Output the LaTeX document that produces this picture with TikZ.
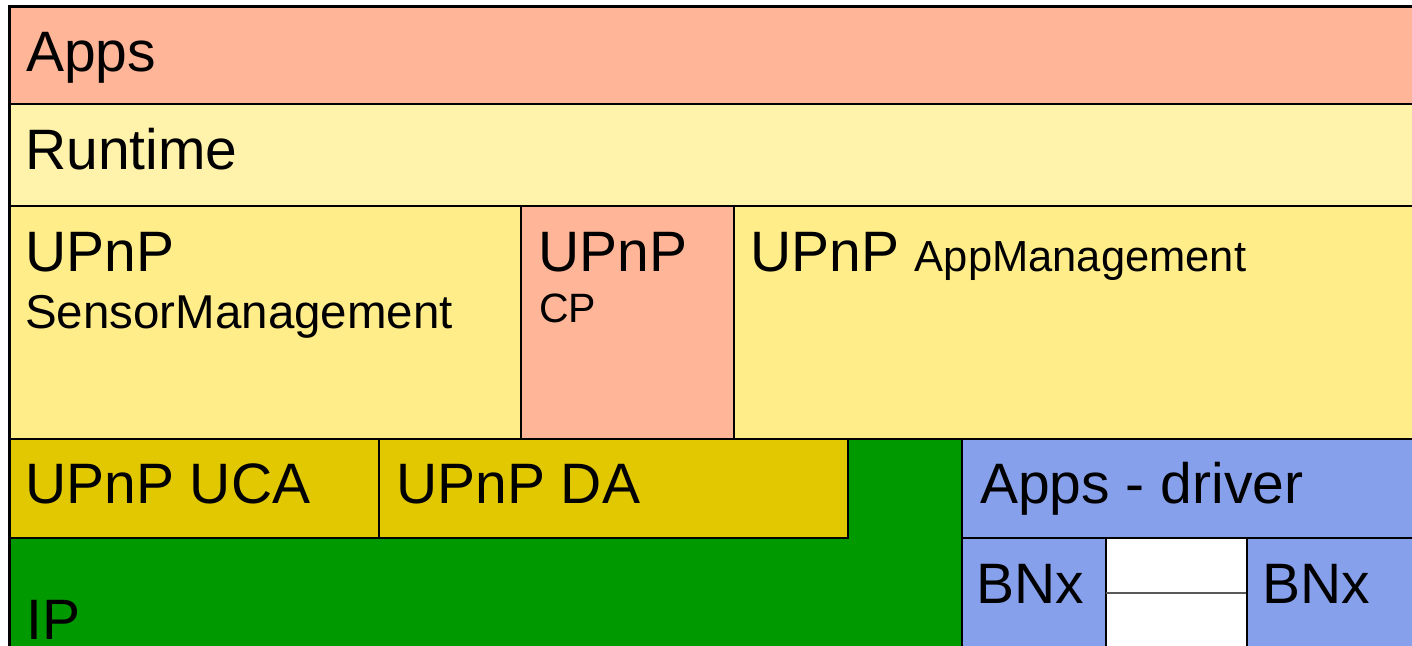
\documentclass[tikz,border=0pt]{standalone}
\usepackage{fontspec}
\setmainfont{Liberation Sans}
\definecolor{salmon}{HTML}{FFB598}
\definecolor{paleyel}{HTML}{FFF2AA}
\definecolor{midyel}{HTML}{FFED8A}
\definecolor{gold}{HTML}{E2C800}
\definecolor{ipgreen}{HTML}{009900}
\definecolor{drvblue}{HTML}{87A0EB}
\tikzset{
  layer/.style={draw=black, line width=2pt},
  big/.style={anchor=base west, inner sep=0pt, font=\fontsize{57}{60}\selectfont},
  mid/.style={anchor=base west, inner sep=0pt, font=\fontsize{47.5}{50}\selectfont},
  small/.style={anchor=base west, inner sep=0pt, font=\fontsize{41}{44}\selectfont},
}
\begin{document}
\begin{tikzpicture}[x=1pt,y=-1pt]
\useasboundingbox (0,0) rectangle (1412,645);
\fill[white] (0,0) rectangle (1412,645);
\clip (0,0) rectangle (1412,645);
% top layers
\draw[layer, fill=salmon] (9,6) rectangle (1430,104);
\draw[layer, fill=paleyel] (9,104) rectangle (1430,206);
% UPnP management row
\draw[layer, fill=midyel] (9,206) rectangle (521,439);
\draw[layer, fill=salmon] (521,206) rectangle (734,439);
\draw[layer, fill=midyel] (734,206) rectangle (1430,439);
% IP (green L-shape) and UPnP UCA / DA
\draw[layer, fill=ipgreen] (9,439) rectangle (962,670);
\draw[layer, fill=gold] (9,439) rectangle (379,538);
\draw[layer, fill=gold] (379,439) rectangle (848,538);
% driver side
\draw[layer, fill=drvblue] (962,439) rectangle (1430,538);
\draw[layer, fill=drvblue] (962,538) rectangle (1106,670);
\draw[layer, fill=white] (1106,538) rectangle (1247,593);
\draw[layer, fill=white] (1106,593) rectangle (1247,670);
\draw[line width=2.5pt, draw=gray!70!black] (1106,593) -- (1247,593);
\draw[layer, fill=drvblue] (1247,538) rectangle (1430,670);
% outer border emphasis
\draw[line width=3pt] (1430,6) -- (9,6) -- (9,670);
% labels
\node[big] (tapps) at (26,71) {Apps};
\node[big] (truntime) at (25,169) {Runtime};
\node[big] (tsensor) at (25,271) {UPnP};
\node[mid] (tsensorb) at (25,328) {SensorManagement};
\node[big] (tcp) at (538,271) {UPnP};
\node[small] (tcpb) at (539,322) {CP};
\node[big] (tappm) at (750,271) {UPnP \fontsize{43.5}{46}\selectfont AppManagement};
\node[big] (tuca) at (25,503) {UPnP UCA};
\node[big] (tda) at (396,503) {UPnP DA};
\node[big] (tdrv) at (980,503) {Apps - driver};
\node[big] (tbnx1) at (976,603) {BNx};
\node[big] (tbnx2) at (1262,603) {BNx};
\node[big] (tip) at (26,639) {IP};
\end{tikzpicture}
\end{document}
